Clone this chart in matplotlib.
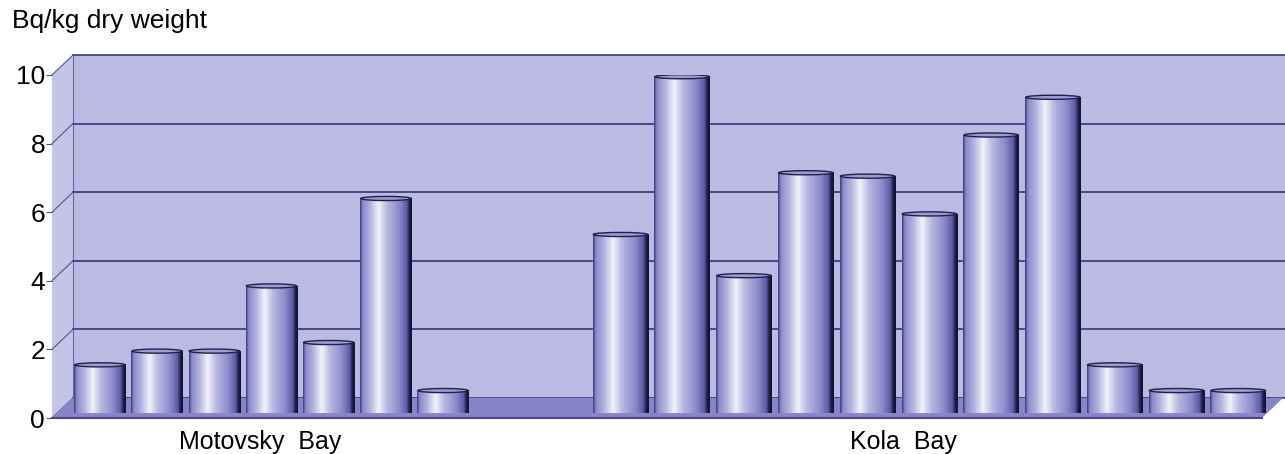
import numpy as np
import matplotlib.pyplot as plt
from matplotlib.colors import LinearSegmentedColormap
from matplotlib.patches import Polygon, Ellipse

plt.rcParams['font.family'] = ['Liberation Sans', 'DejaVu Sans']

# data
motovsky = [1.4, 1.8, 1.8, 3.7, 2.05, 6.25, 0.65]
kola = [5.2, 9.8, 4.0, 7.0, 6.9, 5.8, 8.1, 9.2, 1.4, 0.65, 0.65]
groups = ["Motovsky  Bay", "Kola  Bay"]
yticks = [0, 2, 4, 6, 8, 10]
ylabel = "Bq/kg dry weight"

# layout: Kola bars are drawn a little wider apart in the original
kola_start = 9.1
kola_step = 1.08
values = motovsky + kola
xpos = list(range(len(motovsky))) + [kola_start + i * kola_step for i in range(len(kola))]
widths = [0.9] * len(motovsky) + [0.9 * kola_step] * len(kola)
label_shift = [-0.2, -0.45]

# look
wall = "#babae2"
side = "#c4c4e8"
floor = "#8585c8"
grid_c = "#2a2a6e"
cyl = LinearSegmentedColormap.from_list("cyl", [
    (0.00, "#3a3a78"), (0.05, "#8a8acb"), (0.20, "#b4b4e0"),
    (0.36, "#f2f2fb"), (0.52, "#b8b8e2"), (0.75, "#8c8ccc"),
    (0.90, "#5c5ca8"), (0.95, "#202048"), (1.00, "#101030")])

fig = plt.figure(figsize=(12.85, 4.54), dpi=100)
ax = fig.add_axes([52 / 1285, 36 / 454, 1233 / 1285, 343 / 454])
slot = 57.2  # px per category
x0 = -48 / slot
x1 = x0 + 1233 / slot
dx, dy = 21 / slot, 20 / 34.3
base = 0.15

# back wall, side wall, floor
ax.add_patch(Polygon([(x0 + dx, dy), (x1 + 1, dy), (x1 + 1, 10 + dy), (x0 + dx, 10 + dy)],
                     closed=True, fc=wall, ec="none", clip_on=False, zorder=0))
ax.add_patch(Polygon([(x0, 0), (x0 + dx, dy), (x0 + dx, 10 + dy), (x0, 10)],
                     closed=True, fc=side, ec="none", clip_on=False, zorder=0))
ax.plot([x0 + dx, x0 + dx], [dy, 10 + dy], color="#6a6aa8", lw=0.8, clip_on=False, zorder=1)
for t in yticks:
    ax.plot([x0 + dx, x1 + 1], [t + dy, t + dy], color=grid_c, lw=1.1, clip_on=False, zorder=1)
    ax.plot([x0, x0 + dx], [t, t + dy], color="#555588", lw=0.8, clip_on=False, zorder=1)
fx1 = x1 - 23 / slot
ax.add_patch(Polygon([(x0, 0), (fx1, 0), (fx1 + dx, dy), (x0 + dx, dy)],
                     closed=True, fc=floor, ec="none", clip_on=False, zorder=1))
ax.plot([x0, fx1], [0, 0], color="#4a4a8a", lw=1.5, clip_on=False, zorder=2)

# cylinder bars
grad = np.linspace(0, 1, 256).reshape(1, -1)
for x, v, w in zip(xpos, values, widths):
    ax.imshow(grad, cmap=cyl, extent=(x - w / 2, x + w / 2, base, base + v),
              aspect="auto", zorder=3, interpolation="bilinear")
    ax.add_patch(Ellipse((x, base + v), w * 0.98, 0.12, fc="#9c9cd4", ec="#202048",
                         lw=1.0, zorder=4))
    ax.add_patch(Ellipse((x, base), w, 0.1, fc="#8a8acb", ec="none", zorder=2.9))

ax.set_xlim(x0, x1)
ax.set_ylim(0, 10)
ax.set_facecolor("none")
for s in ax.spines.values():
    s.set_visible(False)
ax.set_xticks([])
ax.set_yticks(yticks)
ax.tick_params(axis="y", length=4, color="#555555", labelsize=19, pad=1)

# group labels
start = 0
for name, n, sh in zip(groups, [len(motovsky), len(kola)], label_shift):
    cx = (xpos[start] + xpos[start + n - 1]) / 2 + sh
    ax.text(cx, -0.7, name, ha="center", va="center", fontsize=18, clip_on=False)
    start += n

fig.text(12 / 1285, 1 - 21 / 454, ylabel, ha="left", va="center", fontsize=19)

fig.savefig("out.png", dpi=100)
